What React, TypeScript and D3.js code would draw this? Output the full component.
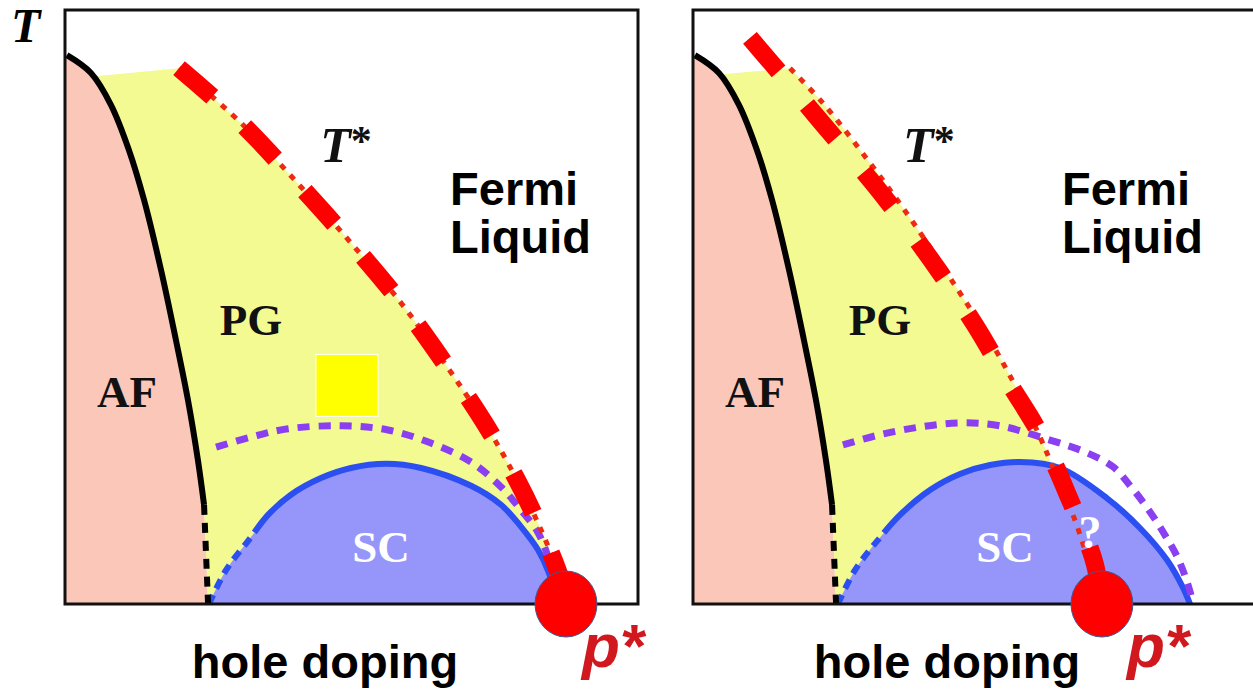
import React, { useEffect, useRef } from 'react';
import * as d3 from 'd3';

type Pt = [number, number];

// hole doping p vs temperature T (T scaled so the top of the box is 1)
const afLine: Pt[] = [
	[0.001, 0.924], [0.0136, 0.894], [0.0241, 0.84], [0.0335, 0.764], [0.0414, 0.68],
	[0.0503, 0.562], [0.0581, 0.444], [0.0644, 0.343], [0.0696, 0.242], [0.0728, 0.167],
];
const afLineDashed: Pt[] = [[0.0728, 0.167], [0.0749, 0]];

// left panel: T* ends at p* inside the dome edge
const pgTopLeft: Pt = [0.0173, 0.889];
const tStarLeft: Pt[] = [
	[0.0597, 0.902], [0.0921, 0.81], [0.1236, 0.702], [0.1497, 0.608], [0.1759, 0.507],
	[0.1995, 0.402], [0.2204, 0.301], [0.2361, 0.212], [0.2492, 0.125], [0.2597, 0.04], [0.2623, 0],
];
const scLeft: Pt[] = [
	[0.0754, 0], [0.0843, 0.057], [0.0963, 0.108], [0.1063, 0.15], [0.1183, 0.184],
	[0.134, 0.212], [0.1497, 0.229], [0.1681, 0.236], [0.1864, 0.229], [0.2126, 0.199],
	[0.2283, 0.167], [0.2388, 0.13], [0.2477, 0.091], [0.2534, 0.052], [0.2576, 0],
];
const onsetLeft: Pt[] = [
	[0.0791, 0.264], [0.0974, 0.281], [0.1168, 0.295], [0.1445, 0.3], [0.1691, 0.293],
	[0.1916, 0.271], [0.2126, 0.239], [0.2283, 0.197], [0.2388, 0.158], [0.2477, 0.12],
	[0.2534, 0.074], [0.256, 0.04],
];
const squareLeft: Pt = [0.1476, 0.368];

// right panel: p* lies under the dome
const pgTopRight: Pt = [0.0126, 0.891];
const tStarRight: Pt[] = [
	[0.0508, 0.902], [0.0681, 0.843], [0.0916, 0.747], [0.1136, 0.65], [0.1346, 0.549],
	[0.1555, 0.444], [0.1712, 0.352], [0.1817, 0.281], [0.1869, 0.242], [0.1932, 0.192],
	[0.2, 0.141], [0.2052, 0.091], [0.2105, 0.04], [0.2141, 0],
];
const tStarRightBold: Pt[] = [
	[0.0298, 0.953], [0.0508, 0.874], [0.0675, 0.81], [0.0979, 0.694], [0.1241, 0.582],
	[0.1476, 0.47], [0.166, 0.369], [0.1791, 0.301], [0.1895, 0.234], [0.1974, 0.175],
	[0.2052, 0.116], [0.2105, 0.066], [0.2141, 0],
];
const scRight: Pt[] = [
	[0.0759, 0], [0.0848, 0.057], [0.0969, 0.108], [0.1084, 0.15], [0.1241, 0.192],
	[0.1398, 0.219], [0.1555, 0.234], [0.1712, 0.239], [0.1922, 0.229], [0.2168, 0.178],
	[0.234, 0.128], [0.2482, 0.074], [0.2566, 0.027], [0.2602, 0],
];
const onsetRight: Pt[] = [
	[0.0785, 0.268], [0.0979, 0.285], [0.1189, 0.298], [0.1398, 0.305], [0.1607, 0.3],
	[0.1869, 0.276], [0.2052, 0.256], [0.2199, 0.231], [0.2299, 0.195], [0.2393, 0.155],
	[0.2471, 0.116], [0.2539, 0.077], [0.2592, 0.032], [0.2618, 0.002],
];

const serif = "'Liberation Serif', 'DejaVu Serif', serif";
const sans = "'Liberation Sans', Arial, sans-serif";

const panels = [
	{
		x0: 65, pgTop: pgTopLeft, tStar: tStarLeft, tStarBold: tStarLeft, sc: scLeft, onset: onsetLeft,
		square: squareLeft, labels: { tStar: [0.1471, 0.744], pg: [0.0974, 0.453], af: [0.0325, 0.332], sc: [0.1655, 0.071], fermi: [0.2016, 0.672] },
		question: null as Pt | null, holeX: 325, pStarX: 582,
	},
	{
		x0: 693, pgTop: pgTopRight, tStar: tStarRight, tStarBold: tStarRightBold, sc: scRight, onset: onsetRight,
		square: null as Pt | null, labels: { tStar: [0.1235, 0.744], pg: [0.0979, 0.453], af: [0.0325, 0.332], sc: [0.1634, 0.071], fermi: [0.1932, 0.672] },
		question: [0.2079, 0.094] as Pt, holeX: 947, pStarX: 1127,
	},
];

export default function App() {
	const ref = useRef<SVGSVGElement>(null);

	useEffect(() => {
		const svg = d3.select(ref.current);
		svg.selectAll('*').remove();

		svg.append('text').attr('x', 11).attr('y', 42).attr('font-family', serif).attr('font-style', 'italic')
			.attr('font-weight', 'bold').attr('font-size', 48).text('T');

		for (const pn of panels) {
			const x = d3.scaleLinear().domain([0, 0.3]).range([pn.x0, pn.x0 + 573]);
			const y = d3.scaleLinear().domain([0, 1]).range([604, 10]);
			const line = d3.line<Pt>().x(d => x(d[0])).y(d => y(d[1])).curve(d3.curveCatmullRom.alpha(0.5));
			const cont = (pts: Pt[]) => (line(pts) || '').replace(/^M/, 'L');
			const g = svg.append('g');

			// AF region
			g.append('path')
				.attr('d', `M${x(0)},${y(afLine[0][1])}` + cont(afLine) + cont(afLineDashed) + `L${x(0)},${y(0)}Z`)
				.attr('fill', '#fac7b8');

			// pseudogap region
			const pgD = `M${x(pn.pgTop[0])},${y(pn.pgTop[1])}` + cont(pn.tStar) +
				cont([...afLineDashed].reverse()) + cont(afLine.slice(2).reverse()) + 'Z';
			g.append('path').attr('d', pgD).attr('fill', '#f2fa91');

			if (pn.square) {
				g.append('rect')
					.attr('x', x(pn.square[0]) - 31).attr('y', y(pn.square[1]) - 31)
					.attr('width', 62).attr('height', 62)
					.attr('fill', '#ffff00').attr('stroke', '#fff').attr('stroke-width', 1);
			}

			// SC dome: one smooth edge, dashed near the bottom-left end
			g.append('path').attr('d', (line(pn.sc) || '') + 'Z').attr('fill', '#9696fa');
			const domeEdge = g.append('path').attr('d', line(pn.sc)).attr('fill', 'none')
				.attr('stroke', '#2b4ff0').attr('stroke-width', 6);
			const edgeNode = domeEdge.node() as SVGPathElement;
			const total = edgeNode.getTotalLength();
			const xSplit = x(pn.sc[2][0]);
			let split = 0;
			while (split < total && edgeNode.getPointAtLength(split).x < xSplit) split += 1;
			const dashes: number[] = [];
			for (let run = 0; run < split; run += 17) dashes.push(10, 7);
			dashes.push(total, 0);
			domeEdge.attr('stroke-dasharray', dashes.join(' '));

			// onset of fluctuations
			g.append('path').attr('d', line(pn.onset)).attr('fill', 'none')
				.attr('stroke', '#8a3ff0').attr('stroke-width', 7).attr('stroke-dasharray', '12 9');

			// AF boundary
			g.append('path').attr('d', line(afLine)).attr('fill', 'none').attr('stroke', '#000').attr('stroke-width', 6);
			g.append('path').attr('d', line(afLineDashed)).attr('fill', 'none').attr('stroke', '#000')
				.attr('stroke-width', 6).attr('stroke-dasharray', '10 8');

			// T* lines
			g.append('path').attr('d', line(pn.tStar)).attr('fill', 'none')
				.attr('stroke', '#ee2a12').attr('stroke-width', 5).attr('stroke-dasharray', '6 8');
			g.append('path').attr('d', line(pn.tStarBold)).attr('fill', 'none')
				.attr('stroke', '#ff0000').attr('stroke-width', 18).attr('stroke-dasharray', '44 44');

			// box
			g.append('rect').attr('x', pn.x0).attr('y', 10).attr('width', 573).attr('height', 594)
				.attr('fill', 'none').attr('stroke', '#111').attr('stroke-width', 3);

			// p* point
			const pStar = pn.tStar[pn.tStar.length - 1];
			g.append('ellipse').attr('cx', x(pStar[0])).attr('cy', y(0)).attr('rx', 31).attr('ry', 33)
				.attr('fill', '#ff0000').attr('stroke', '#3b5a9a').attr('stroke-width', 1);

			const serifLabel = (p: number[], s: string, fill = '#111', size = 45) =>
				g.append('text').attr('x', x(p[0])).attr('y', y(p[1])).attr('text-anchor', 'middle')
					.attr('font-family', serif).attr('font-weight', 'bold').attr('font-size', size)
					.attr('fill', fill).text(s);

			serifLabel(pn.labels.pg, 'PG');
			serifLabel(pn.labels.af, 'AF');
			serifLabel(pn.labels.sc, 'SC', '#fff');
			const ts = serifLabel(pn.labels.tStar, 'T', '#111', 50).attr('font-style', 'italic');
			ts.append('tspan').attr('dy', -7).attr('font-size', 42).attr('font-style', 'normal').text('*');
			if (pn.question) serifLabel(pn.question, '?', '#fff', 46);

			const fl = g.append('text').attr('font-family', sans).attr('font-weight', 'bold').attr('font-size', 47).attr('fill', '#000');
			fl.append('tspan').attr('x', x(pn.labels.fermi[0])).attr('y', y(pn.labels.fermi[1])).text('Fermi');
			fl.append('tspan').attr('x', x(pn.labels.fermi[0])).attr('y', y(pn.labels.fermi[1]) + 48).text('Liquid');

			g.append('text').attr('x', pn.holeX).attr('y', 678).attr('text-anchor', 'middle')
				.attr('font-family', sans).attr('font-weight', 'bold').attr('font-size', 47).attr('fill', '#000')
				.text('hole doping');
			g.append('text').attr('x', pn.pStarX).attr('y', 667)
				.attr('font-family', sans).attr('font-weight', 'bold').attr('font-style', 'italic')
				.attr('font-size', 62).attr('fill', '#d0181e').text('p*');
		}
	}, []);

	return (
		<svg ref={ref} width={1253} height={689} style={{ position: 'absolute', left: 0, top: 0, background: '#fff' }} />
	);
}
